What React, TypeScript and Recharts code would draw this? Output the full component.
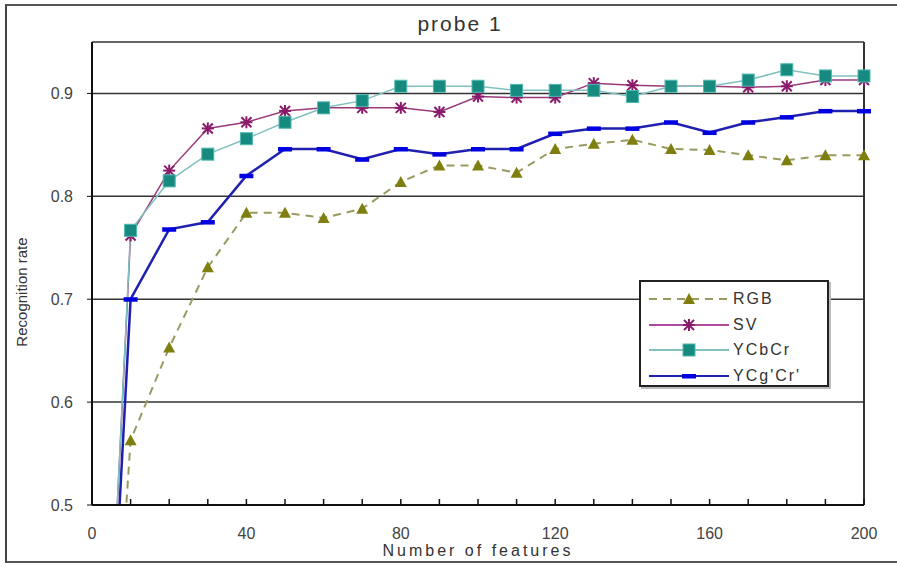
import { LineChart, Line, XAxis, YAxis, CartesianGrid, ReferenceLine } from 'recharts'

const features = [0, 10, 20, 30, 40, 50, 60, 70, 80, 90, 100, 110, 120, 130, 140, 150, 160, 170, 180, 190, 200]
const rgb = [0, 0.563, 0.653, 0.731, 0.784, 0.784, 0.779, 0.788, 0.814, 0.83, 0.83, 0.823, 0.846, 0.851, 0.855, 0.846, 0.845, 0.84, 0.835, 0.84, 0.84]
const sv = [0, 0.762, 0.825, 0.866, 0.872, 0.883, 0.886, 0.886, 0.886, 0.882, 0.897, 0.896, 0.896, 0.91, 0.908, 0.907, 0.907, 0.906, 0.907, 0.913, 0.913]
const ycbcr = [0, 0.767, 0.815, 0.841, 0.856, 0.872, 0.886, 0.893, 0.907, 0.907, 0.907, 0.903, 0.903, 0.903, 0.897, 0.907, 0.907, 0.913, 0.923, 0.917, 0.917]
const ycgcr = [0, 0.7, 0.768, 0.775, 0.82, 0.846, 0.846, 0.836, 0.846, 0.841, 0.846, 0.846, 0.861, 0.866, 0.866, 0.872, 0.862, 0.872, 0.877, 0.883, 0.883]

const xTicks = [0, 10, 20, 30, 40, 50, 60, 70, 80, 90, 100, 110, 120, 130, 140, 150, 160, 170, 180, 190, 200]
const yTicks = [0.5, 0.6, 0.7, 0.8, 0.9]

const data = features.map((f, i) => ({ f, rgb: rgb[i], sv: sv[i], ycbcr: ycbcr[i], ycgcr: ycgcr[i] }))

const font = '"Liberation Sans", Arial, sans-serif'

const triangle = (cx: number, cy: number, key?: any) => (
  <path key={key} d={`M${cx},${cy - 6} L${cx + 6},${cy + 5} L${cx - 6},${cy + 5} Z`} fill="#7f7f10" />
)
const star = (cx: number, cy: number, key?: any) => (
  <g key={key} stroke="#8a1a6a" strokeWidth={2}>
    <line x1={cx - 6} y1={cy} x2={cx + 6} y2={cy} />
    <line x1={cx} y1={cy - 6} x2={cx} y2={cy + 6} />
    <line x1={cx - 5} y1={cy - 5} x2={cx + 5} y2={cy + 5} />
    <line x1={cx - 5} y1={cy + 5} x2={cx + 5} y2={cy - 5} />
  </g>
)
const square = (cx: number, cy: number, key?: any) => (
  <rect key={key} x={cx - 6} y={cy - 6} width={12} height={12} fill="#178a80" stroke="#4fb8b0" strokeWidth={1} />
)
const dash = (cx: number, cy: number, key?: any) => (
  <rect key={key} x={cx - 7} y={cy - 2} width={14} height={4.5} fill="#0000e0" />
)

const XTick = (props: any) => {
  const { x, y, payload } = props
  const v = payload.value
  return (
    <g>
      <line x1={x} y1={y} x2={x} y2={y - 6} stroke="#111" strokeWidth={1.5} />
      {v % 40 === 0 && (
        <text x={x} y={y + 34} textAnchor="middle" fontSize={16} fill="#444" fontFamily={font}>
          {v}
        </text>
      )}
    </g>
  )
}

const legendItems = [
  { name: 'RGB', color: '#9a9a60', dashArray: '8 6', marker: triangle },
  { name: 'SV', color: '#b04a9a', dashArray: undefined, marker: star },
  { name: 'YCbCr', color: '#80c0c0', dashArray: undefined, marker: square },
  { name: "YCg'Cr'", color: '#2020b0', dashArray: undefined, marker: dash },
]

export default function App() {
  return (
    <div style={{ position: 'fixed', left: 0, top: 0, width: 897, height: 567, overflow: 'hidden', background: '#fff', fontFamily: font }}>
      <div style={{ position: 'absolute', left: 5, top: 4, width: 900, height: 559, boxSizing: 'border-box', borderLeft: '2px solid #444', borderTop: '2px solid #555', borderBottom: '2px solid #555' }} />
      <div style={{ position: 'absolute', left: 0, width: 920, top: 12, textAlign: 'center', fontSize: 21, letterSpacing: 2, color: '#333' }}>probe 1</div>
      <div style={{ position: 'absolute', left: 0, top: 0 }}>
        <LineChart width={897} height={567} data={data} margin={{ top: 42, right: 33, bottom: 5, left: 12 }}>
          <CartesianGrid horizontal vertical={false} stroke="#333" strokeWidth={1.5} />
          <XAxis
            dataKey="f"
            type="number"
            domain={[0, 200]}
            ticks={xTicks}
            interval={0}
            tick={<XTick />}
            tickLine={false}
            tickSize={0}
            tickMargin={0}
            height={57}
            axisLine={{ stroke: '#111', strokeWidth: 2 }}
            label={{ value: 'Number of features', position: 'insideBottom', offset: 6, fontSize: 16, fill: '#333', letterSpacing: 3, fontFamily: font }}
          />
          <YAxis
            type="number"
            domain={[0.5, 0.95]}
            allowDataOverflow
            ticks={yTicks}
            width={80}
            tickSize={5}
            tickMargin={14}
            tickFormatter={(v: number) => v.toFixed(1)}
            tick={{ fontSize: 16, fill: '#444', fontFamily: font }}
            tickLine={{ stroke: '#111' }}
            axisLine={{ stroke: '#111', strokeWidth: 2 }}
          />
          <ReferenceLine y={0.95} stroke="#666" strokeWidth={2} />
          <ReferenceLine x={200} stroke="#333" strokeWidth={2} />
          <Line dataKey="rgb" stroke="#9a9a60" strokeWidth={2} strokeDasharray="8 6" isAnimationActive={false}
            dot={(p: any) => triangle(p.cx, p.cy, `rgb-${p.index}`)} />
          <Line dataKey="ycgcr" stroke="#2020b0" strokeWidth={2.5} isAnimationActive={false}
            dot={(p: any) => dash(p.cx, p.cy, `ycg-${p.index}`)} />
          <Line dataKey="sv" stroke="#9a3a7a" strokeWidth={1.5} isAnimationActive={false}
            dot={(p: any) => star(p.cx, p.cy, `sv-${p.index}`)} />
          <Line dataKey="ycbcr" stroke="#80c0c0" strokeWidth={1.5} isAnimationActive={false}
            dot={(p: any) => square(p.cx, p.cy, `ycb-${p.index}`)} />
        </LineChart>
      </div>
      <div style={{ position: 'absolute', left: 22, top: 292, width: 0, height: 0 }}>
        <div style={{ position: 'absolute', left: -100, top: -10, width: 200, height: 20, lineHeight: '20px', textAlign: 'center', transform: 'rotate(-90deg)', fontSize: 15, color: '#333', whiteSpace: 'nowrap' }}>
          Recognition rate
        </div>
      </div>
      <div style={{ position: 'absolute', left: 639, top: 280, width: 186, height: 103, border: '2px solid #222', background: '#fff', boxShadow: '2px 2px 0 #bbb' }}>
        {legendItems.map((it, i) => (
          <div key={it.name} style={{ position: 'absolute', left: 6, top: 5 + i * 25.5, height: 24, display: 'flex', alignItems: 'center' }}>
            <svg width={84} height={20}>
              <line x1={2} y1={10} x2={82} y2={10} stroke={it.color} strokeWidth={2} strokeDasharray={it.dashArray} />
              {it.marker(42, 10)}
            </svg>
            <span style={{ fontSize: 16, color: '#333', letterSpacing: 2, marginLeft: 2 }}>{it.name}</span>
          </div>
        ))}
      </div>
    </div>
  )
}
